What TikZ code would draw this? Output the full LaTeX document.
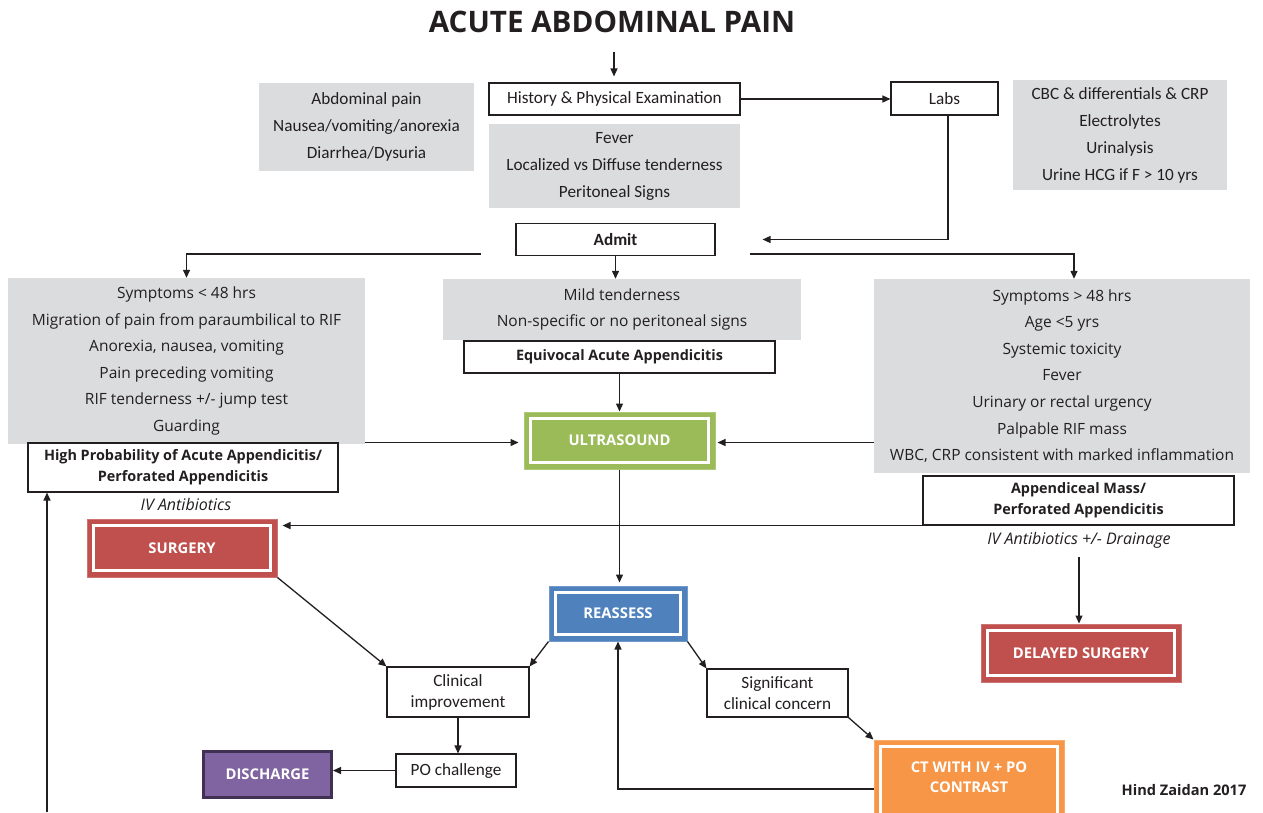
\documentclass[tikz,border=0pt]{standalone}
\usepackage{fontspec}
\setmainfont{Open Sans}
\newfontfamily\calib{Carlito}
\usetikzlibrary{arrows.meta}
\definecolor{boxgray}{RGB}{219,220,222}
\definecolor{cgreen}{RGB}{155,187,89}
\definecolor{cblue}{RGB}{79,129,189}
\definecolor{cred}{RGB}{192,80,77}
\definecolor{corange}{RGB}{247,150,70}
\definecolor{cpurple}{RGB}{128,100,162}
\definecolor{cpurpledk}{RGB}{64,49,82}
\definecolor{ink}{RGB}{35,31,32}
\begin{document}
\begin{tikzpicture}[x=1pt,y=-1pt,
  arr/.style={-{Triangle[length=8pt,width=7pt]}, line width=1.3pt, draw=ink},
  gbox/.style={fill=boxgray, inner sep=0pt, align=center, text=ink, font=\fontsize{15.5}{26.6}\selectfont},
  tbox/.style={fill=boxgray, inner sep=0pt, align=center, text=ink, font=\calib\fontsize{17.2}{27}\selectfont},
  wbox/.style={draw=ink, line width=1.1pt, fill=white, inner sep=0pt, align=center, text=ink, font=\calib\fontsize{17.2}{21}\selectfont},
  bbox/.style={draw=ink, line width=1.1pt, fill=white, inner sep=0pt, align=center, text=ink, font=\bfseries\fontsize{14.4}{21}\selectfont},
  cbox/.style={fill=#1, draw=#1!80!white, line width=1pt, inner sep=0pt, align=center, text=white, font=\bfseries\fontsize{14.8}{20}\selectfont,
    path picture={\draw[white, line width=2.6pt] ([shift={(6.5pt,6.5pt)}]path picture bounding box.south west) rectangle ([shift={(-6.5pt,-6.5pt)}]path picture bounding box.north east);}},
  note/.style={inner sep=0pt, text=ink, font=\itshape\fontsize{16}{18}\selectfont}
]
\useasboundingbox (0,0) rectangle (1263,812);

% title
\node[inner sep=0pt, text=ink, font=\bfseries\fontsize{29.6}{34}\selectfont] (title) at (612,22) {ACUTE ABDOMINAL PAIN};
\coordinate (start) at (614,52);

% top row
\node[tbox, minimum width=215pt, minimum height=88pt] (presenting) at (366.5,127) {Abdominal pain\\Nausea/vomiting/anorexia\\Diarrhea/Dysuria};
\node[wbox, minimum width=251pt, minimum height=32pt] (hist) at (614.5,99) {History \& Physical Examination};
\node[wbox, minimum width=107pt, minimum height=33pt] (labs) at (944.5,98.5) {Labs};
\node[tbox, minimum width=251pt, minimum height=84pt] (exam) at (614.5,166) {Fever\\Localized vs Diffuse tenderness\\Peritoneal Signs};
\node[tbox, minimum width=214pt, minimum height=110pt] (labsgray) at (1120,135) {CBC \& differentials \& CRP\\Electrolytes\\Urinalysis\\Urine HCG if F > 10 yrs};
\node[wbox, font=\calib\bfseries\fontsize{17.2}{21}\selectfont, minimum width=199pt, minimum height=32pt] (admit) at (615.5,239.5) {Admit};

\coordinate (splitL) at (481,254);
\coordinate (splitR) at (750,254);

% middle row
\node[gbox, minimum width=357pt, minimum height=166pt] (leftsym) at (186.5,361) {Symptoms < 48 hrs\\Migration of pain from paraumbilical to RIF\\Anorexia, nausea, vomiting\\Pain preceding vomiting\\RIF tenderness +/- jump test\\Guarding};
\node[bbox, minimum width=310pt, minimum height=49pt] (highprob) at (183,467.5) {High Probability of Acute Appendicitis/\\Perforated Appendicitis};
\node[note] (ivab) at (186,504) {IV Antibiotics};

\node[gbox, minimum width=358pt, minimum height=61pt] (midsym) at (622,309.5) {Mild tenderness\\Non-specific or no peritoneal signs};
\node[bbox, minimum width=311pt, minimum height=32pt] (equiv) at (619.5,357) {Equivocal Acute Appendicitis};
\node[cbox=cgreen, minimum width=191pt, minimum height=57pt] (us) at (619.5,440.5) {ULTRASOUND};

\node[gbox, minimum width=376pt, minimum height=194pt] (rightsym) at (1062,376) {Symptoms > 48 hrs\\Age <5 yrs\\Systemic toxicity\\Fever\\Urinary or rectal urgency\\Palpable RIF mass\\WBC, CRP consistent with marked inflammation};
\node[bbox, minimum width=311pt, minimum height=49pt] (appmass) at (1078.5,500.5) {Appendiceal Mass/\\Perforated Appendicitis};
\node[note] (ivdrain) at (1079,540) {IV Antibiotics +/- Drainage};

% lower part
\node[cbox=cred, minimum width=190pt, minimum height=58pt] (surgery) at (182,548) {SURGERY};
\node[cbox=cred, minimum width=200pt, minimum height=58pt] (delayed) at (1081,653) {DELAYED SURGERY};
\node[cbox=cblue, minimum width=138pt, minimum height=55pt] (reassess) at (618,613.5) {REASSESS};
\node[wbox, minimum width=142pt, minimum height=50pt] (clinical) at (458,692) {Clinical\\improvement};
\node[wbox, minimum width=120pt, minimum height=33pt] (po) at (456,770.5) {PO challenge};
\node[fill=cpurple, draw=cpurpledk, line width=3pt, inner sep=0pt, text=white, font=\bfseries\fontsize{14.8}{20}\selectfont, minimum width=128pt, minimum height=46pt] (discharge) at (267.5,774.5) {DISCHARGE};
\node[wbox, minimum width=141pt, minimum height=48pt] (significant) at (777.5,693) {Significant\\clinical concern};
\node[cbox=corange, minimum width=190pt, minimum height=92pt] (ct) at (969,786) {\raisebox{8pt}[\height][\depth]{\begin{tabular}{@{}c@{}}CT WITH IV + PO\\CONTRAST\end{tabular}}};
\node[inner sep=0pt, text=ink, font=\bfseries\fontsize{14.6}{17}\selectfont] (credit) at (1184,790) {Hind Zaidan 2017};
\coordinate (bottomL) at (47,812);

% connectors
\draw[arr, shorten >=6pt] (start) -- (start |- hist.north);
\draw[arr] (hist.east) -- (hist.east -| labs.west);
\draw[arr] ([xshift=3.5pt]labs.south) |- ([xshift=47pt]admit.east);
\draw[arr] (admit.south) -- (admit.south |- midsym.north);
\draw[arr] (splitL) -| (leftsym.north);
\draw[arr] (splitR) -| ([xshift=12pt]rightsym.north);
\draw[arr] (equiv.south) -- (us.north);
\draw[arr, shorten >=5pt] ([yshift=-2pt]leftsym.east |- us.west) -- ([yshift=-2pt]us.west);
\draw[arr, shorten >=2pt] ([yshift=-2pt]rightsym.west |- us.east) -- ([yshift=-2pt]us.east);
\draw[arr, shorten >=5pt] (appmass.south west) -- (appmass.south west -| surgery.east);
\draw[arr] ([yshift=-9pt]ivdrain.south) -- (ivdrain.south |- delayed.north);
\draw[arr, shorten >=3pt] (us.south) -- (us.south |- reassess.north);
\draw[arr] (surgery.south east) -- (clinical.north west);
\draw[arr] (reassess.south west) -- (clinical.north east);
\draw[arr] (reassess.south east) -- (significant.north west);
\draw[arr] (significant.south east) -- (ct.north west);
\draw[arr] (clinical.south) -- (clinical.south |- po.north);
\draw[arr] (po.west) -- (po.west -| discharge.east);
\draw[arr] ([yshift=-3pt]ct.west) -| (reassess.south);
\draw[arr] (bottomL) -- (bottomL |- highprob.south);
\end{tikzpicture}
\end{document}
